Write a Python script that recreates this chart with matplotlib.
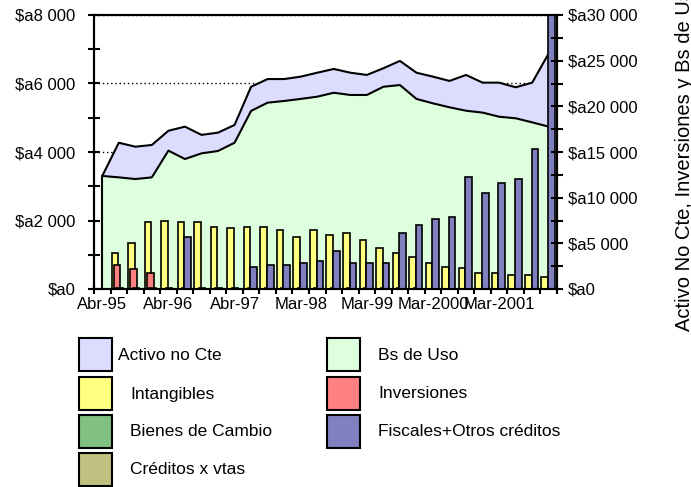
import numpy as np
import matplotlib
matplotlib.use('Agg')
import matplotlib.pyplot as plt
from matplotlib.patches import Rectangle
from matplotlib.ticker import FuncFormatter, MultipleLocator

plt.rcParams['font.family'] = ['Liberation Sans', 'DejaVu Sans']

# 28 periodos, etiqueta cada 4
tick_labels = ['Abr-95', 'Abr-96', 'Abr-97', 'Mar-98', 'Mar-99', 'Mar-2000', 'Mar-2001']

# eje izquierdo (areas)
activo_no_cte = [3300, 4270, 4155, 4205, 4620, 4740, 4500, 4565, 4790, 5905,
                 6130, 6130, 6200, 6315, 6425, 6315, 6250, 6445, 6660, 6315,
                 6200, 6075, 6250, 6025, 6025, 5890, 6025, 6880]
bs_de_uso = [3300, 3260, 3210, 3260, 4040, 3795, 3960, 4030, 4270, 5200,
             5440, 5490, 5550, 5615, 5730, 5665, 5665, 5905, 5955, 5550,
             5420, 5305, 5205, 5150, 5030, 4985, 4865, 4740]

# eje derecho (columnas)
intangibles = [0, 3975, 5070, 7300, 7480, 7300, 7300, 6820, 6650, 6820,
               6820, 6460, 5730, 6460, 5945, 6165, 5365, 4455, 3975, 3535,
               2880, 2440, 2265, 1785, 1785, 1565, 1565, 1345]
inversiones = [0, 2680, 2240, 1800, 0, 0, 0, 0, 0, 0,
               0, 0, 0, 0, 0, 0, 0, 0, 0, 0,
               0, 0, 0, 0, 0, 0, 0, 0]
bienes_cambio = [0, 150, 150, 150, 150, 150, 150, 150, 150, 150,
                 150, 150, 150, 150, 150, 150, 150, 150, 150, 150,
                 0, 0, 0, 0, 0, 0, 0, 0]
fiscales = [0, 0, 0, 0, 0, 5730, 0, 0, 0, 2440,
            2660, 2660, 2880, 3100, 4195, 2880, 2880, 2880, 6165, 7040,
            7700, 7915, 12300, 10545, 11640, 12080, 15365, 30000]
creditos_vtas = [0] * 28

c_activo = '#DCDCFF'
c_uso = '#DDFFDD'
c_int = '#FFFF80'
c_inv = '#FF8080'
c_bie = '#80C080'
c_fis = '#8080C0'
c_cre = '#C0C080'


def money(v, p):
    if v == 0:
        return '$a0'
    return '$a' + format(int(v), ',').replace(',', ' ')


x = np.arange(len(activo_no_cte))

fig = plt.figure(figsize=(6.91, 4.87), dpi=100)
ax = fig.add_axes([94 / 691, 1 - 289 / 487, 463 / 691, 274 / 487])

# areas
ax.fill_between(x, 0, activo_no_cte, color=c_activo, zorder=1)
ax.fill_between(x, 0, bs_de_uso, color=c_uso, zorder=1.1)
ax.plot(x, activo_no_cte, color='black', lw=1.5, zorder=1.2)
ax.plot(x, bs_de_uso, color='black', lw=1.5, zorder=1.2)
ax.plot([x[0], x[0]], [0, bs_de_uso[0]], color='black', lw=1.5, zorder=1.2)

ax.set_xlim(-0.5, len(x) - 0.5)
ax.set_ylim(0, 8000)
ax.yaxis.set_major_locator(MultipleLocator(2000))
ax.yaxis.set_minor_locator(MultipleLocator(1000))
ax.yaxis.set_major_formatter(FuncFormatter(money))
ax.set_axisbelow(True)
ax.grid(axis='y', which='major', color='black', linestyle=(0, (1, 2)), lw=1)

ax.set_xticks(x[::4])
ax.set_xticklabels(tick_labels)
ax.set_xticks(np.arange(len(x) + 1) - 0.5, minor=True)
ax.tick_params(axis='x', which='major', length=0, labelsize=12, pad=6)
ax.tick_params(axis='x', which='minor', direction='inout', length=7, width=1.5)
ax.tick_params(axis='y', which='both', direction='inout', length=9, width=1.5,
               labelsize=12, pad=9)

for s in ax.spines.values():
    s.set_linewidth(1.5)

# columnas
ax2 = ax.twinx()
w = 0.4
ax2.bar(x - 0.24, intangibles, w, color=c_int, edgecolor='black', lw=1.2)
ax2.bar(x - 0.10, inversiones, w, color=c_inv, edgecolor='black', lw=1.2)
ax2.bar(x + 0.03, bienes_cambio, w, color=c_bie, edgecolor='black', lw=1.2)
ax2.bar(x + 0.16, fiscales, w, color=c_fis, edgecolor='black', lw=1.2)
ax2.bar(x + 0.29, creditos_vtas, w, color=c_cre, edgecolor='black', lw=1.2)
ax2.set_ylim(0, 30000)
ax2.yaxis.set_major_locator(MultipleLocator(5000))
ax2.yaxis.set_minor_locator(MultipleLocator(2500))
ax2.yaxis.set_major_formatter(FuncFormatter(money))
ax2.tick_params(axis='y', which='both', direction='inout', length=9, width=1.5, labelsize=12)
for s in ax2.spines.values():
    s.set_linewidth(1.5)
ax2.set_ylabel('Activo No Cte, Inversiones y Bs de Uso', fontsize=14.5)
ax2.yaxis.set_label_coords(1.255, 0.49)

# leyenda
items = [
    (c_activo, 'Activo no Cte', 79, 338, 118),
    (c_uso, 'Bs de Uso', 327, 338, 378),
    (c_int, 'Intangibles', 79, 377, 130),
    (c_inv, 'Inversiones', 327, 377, 378),
    (c_bie, 'Bienes de Cambio', 79, 415, 130),
    (c_fis, 'Fiscales+Otros créditos', 327, 415, 378),
    (c_cre, 'Créditos x vtas', 79, 453, 130),
]
for col, name, bx, by, tx in items:
    fig.patches.append(Rectangle((bx / 691, 1 - (by + 33) / 487), 33 / 691, 33 / 487,
                                 transform=fig.transFigure, facecolor=col,
                                 edgecolor='black', lw=1.5))
    fig.text(tx / 691, 1 - (by + 17) / 487, name, fontsize=12.5, va='center', ha='left')

fig.savefig('out.png', dpi=100)
